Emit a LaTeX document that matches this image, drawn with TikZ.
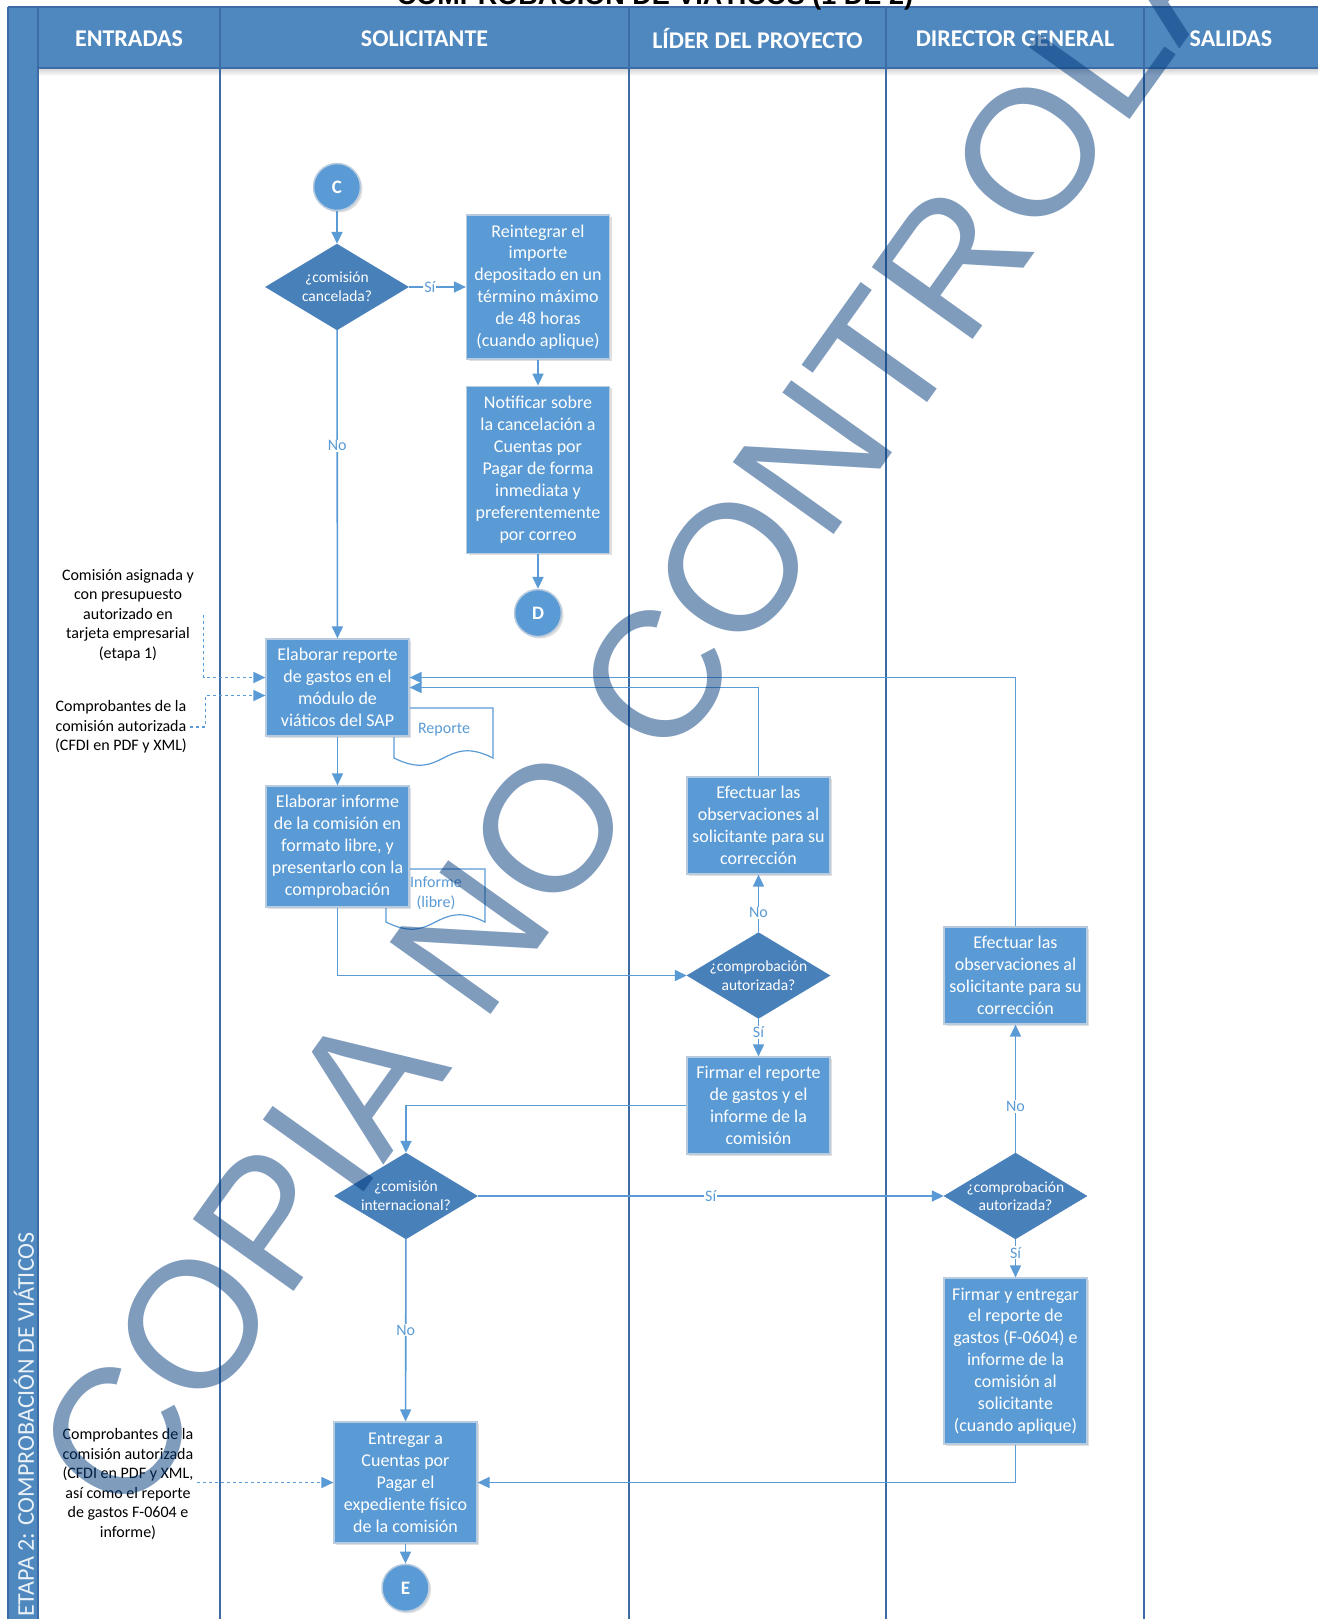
\documentclass[tikz,border=0pt]{standalone}
\usepackage{fontspec}
\setmainfont{Carlito}
\newfontfamily\arialfont{Liberation Sans}
\usetikzlibrary{positioning,shapes.geometric,arrows.meta,shadows}

\definecolor{boxfill}{RGB}{91,155,213}
\definecolor{decfill}{RGB}{72,128,186}
\definecolor{headfill}{RGB}{79,136,190}
\definecolor{lanec}{RGB}{60,108,165}
\definecolor{boxline}{RGB}{185,203,222}
\definecolor{wmark}{RGB}{2,58,125}

\begin{document}
\begin{tikzpicture}[x=1pt, y=-1pt, node distance=26pt,
  proc/.style={rectangle, draw=boxline, line width=1.2pt, fill=boxfill, text=white, minimum width=143pt, align=center, inner sep=2pt, font=\fontsize{18}{21.9}\selectfont, drop shadow={shadow xshift=2pt, shadow yshift=-2pt, opacity=.25}},
  dec/.style={diamond, aspect=1.66, draw=decfill, fill=decfill, text=white, minimum width=143pt, minimum height=86pt, inner sep=-4pt, align=center, font=\fontsize{15.5}{18.6}\selectfont},
  conn/.style={circle, draw=boxline, line width=1.5pt, fill=boxfill, text=white, minimum size=47pt, inner sep=0pt, font=\fontsize{19}{19}\selectfont\bfseries, drop shadow={shadow xshift=2pt, shadow yshift=-2pt, opacity=.25}},
  inp/.style={align=center, font=\fontsize{16}{19.6}\selectfont},
  head/.style={text=white, font=\fontsize{24}{24}\selectfont\bfseries},
  lbl/.style={fill=white, text=boxfill, inner sep=1pt, font=\fontsize{16}{16}\selectfont},
  arr/.style={draw=boxfill, line width=1.6pt, -{Triangle[length=12pt,width=11pt]}},
  dots/.style={draw=boxfill, line width=1.6pt, dash pattern=on 3pt off 3pt, -{Triangle[length=12pt,width=11pt]}},
  docs/.style={draw=boxfill, line width=1.2pt, fill=white},
  lane/.style={draw=lanec, line width=1.6pt}]

\useasboundingbox (0,0) rectangle (1318,1619);
\fill[white] (0,0) rectangle (1318,1619);

\fill[headfill] (8,7) rectangle (1318,68);
\fill[headfill] (8,68) rectangle (38,1619);
\shade[top color=black!18, bottom color=white] (38,68) rectangle (1318,76);
\draw[lane] (8,7) -- (1318,7);
\draw[lane] (38,68) -- (1318,68);
\draw[lane] (8,7) -- (8,1619);
\draw[lane] (38,7) -- (38,1619);
\draw[lane] (220,7) -- (220,1619);
\draw[lane] (629,7) -- (629,1619);
\draw[lane] (886,7) -- (886,1619);
\draw[lane] (1144,7) -- (1144,1619);

\node[anchor=base, font=\arialfont\bfseries\fontsize{27}{30}\selectfont] (title) at (655,5) {COMPROBACIÓN DE VIÁTICOS (1 DE 2)};
\node[head] (h1) at (129,39) {ENTRADAS};
\node[head] (h2) at (424.5,39) {SOLICITANTE};
\node[head] (h3) at (757.5,39) {LÍDER DEL PROYECTO};
\node[head] (h4) at (1015,39) {DIRECTOR GENERAL};
\node[head] (h5) at (1231,39) {SALIDAS};
\node[rotate=90, anchor=west, inner sep=0pt, text=white!88!headfill, font=\fontsize{24}{24}\selectfont] (stage) at (24,1617) {ETAPA 2: COMPROBACIÓN DE VIÁTICOS};

\draw[docs] (394,758) -- (394,708) -- (493,708) -- (493,758) .. controls (443.5,733) and (443.5,783) .. (394,758) -- cycle;
\node[text=boxfill, font=\fontsize{16}{16}\selectfont] (doc1) at (444,730) {Reporte};
\draw[docs] (386,922) -- (386,869) -- (485,869) -- (485,922) .. controls (435.5,897) and (435.5,947) .. (386,922) -- cycle;
\node[text=boxfill, align=center, font=\fontsize{16}{20}\selectfont] (doc2) at (436,893) {Informe\\(libre)};

\node[conn] (1) at (337,187) {C};
\node[dec] (2) at (337,287) {¿comisión\\cancelada?};
\node[proc, minimum height=144pt] (3) at (538,287) {Reintegrar el\\importe\\depositado en un\\término máximo\\de 48 horas\\(cuando aplique)};
\node[proc, minimum height=167pt] (4) [below=of 3] {Notificar sobre\\la cancelación a\\Cuentas por\\Pagar de forma\\inmediata y\\preferentemente\\por correo};
\node[conn] (5) [below=35pt of 4] {D};
\node[proc, minimum height=97pt] (6) at (337.5,687.5) {Elaborar reporte\\de gastos en el\\módulo de\\viáticos del SAP};
\node[proc, minimum height=121pt] (7) at (337.5,846.5) {Elaborar informe\\de la comisión en\\formato libre, y\\presentarlo con la\\comprobación};
\node[dec] (8) at (758.5,975.5) {¿comprobación\\autorizada?};
\node[proc, minimum height=97pt] (9) at (758.5,825.5) {Efectuar las\\observaciones al\\solicitante para su\\corrección};
\node[proc, minimum height=97pt] (10) at (758.5,1105.5) {Firmar el reporte\\de gastos y el\\informe de la\\comisión};
\node[dec] (11) at (406,1196) {¿comisión\\internacional?};
\node[dec] (12) at (1015.5,1196) {¿comprobación\\autorizada?};
\node[proc, minimum height=97pt] (13) at (1015.5,975.5) {Efectuar las\\observaciones al\\solicitante para su\\corrección};
\node[proc, minimum height=166pt] (14) at (1015.5,1361) {Firmar y entregar\\el reporte de\\gastos (F-0604) e\\informe de la\\comisión al\\solicitante\\(cuando aplique)};
\node[proc, minimum height=121pt] (15) at (405.5,1482.5) {Entregar a\\Cuentas por\\Pagar el\\expediente físico\\de la comisión};
\node[conn] (16) [below=20pt of 15] {E};

\node[inp] (in1) at (128,615) {Comisión asignada y\\con presupuesto\\autorizado en\\tarjeta empresarial\\(etapa 1)};
\node[inp] (in2) at (121,727) {Comprobantes de la\\comisión autorizada\\(CFDI en PDF y XML)};
\node[inp] (in3) at (128,1484) {Comprobantes de la\\comisión autorizada\\(CFDI en PDF y XML,\\así como el reporte\\de gastos F-0604 e\\informe)};

\draw[arr] (1) -- (2);
\draw[arr] (2) -- node[lbl, pos=0.37] {Sí} (3);
\draw[arr] (3) -- (4);
\draw[arr] (4) -- (5);
\draw[arr] (2) -- node[lbl, pos=0.375] {No} (6);
\draw[arr] (6) -- (7);
\draw[arr] (7) |- (8);
\draw[arr] (8) -- node[lbl, pos=0.34] {No} (9);
\draw[arr] (9) |- (6);
\draw[arr] (8) -- node[lbl, pos=0.36] {Sí} (10);
\draw[arr] (10) -| (11);
\draw[arr] (11) -- node[lbl] {Sí} (12);
\draw[arr] (12) -- node[lbl, pos=0.36] {No} (13);
\draw[arr] (13) |- ([yshift=10pt]6.east);
\draw[arr] (12) -- node[lbl, pos=0.36] {Sí} (14);
\draw[arr] (14) |- (15);
\draw[arr] (11) -- node[lbl] {No} (15);
\draw[arr] (15) -- (16);

\draw[dots] ([xshift=6pt]in1.east) |- ([yshift=10pt]6.west);
\draw[dots] (in2.east) -- ++(15,0) |- ([yshift=-8pt]6.west);
\draw[dots] (in3.east |- 15.west) -- (15.west);

\node[rotate=54.5, text=wmark, text opacity=.5, font=\arialfont\fontsize{180}{180}\selectfont] (wm) at (711,600) {COPIA NO CONTROLADA};
\end{tikzpicture}
\end{document}
